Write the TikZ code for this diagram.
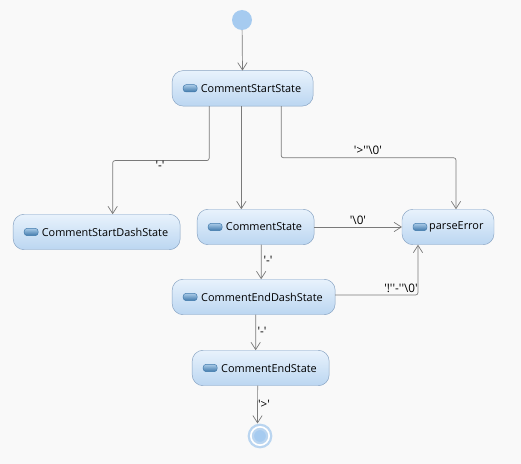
\documentclass[tikz,border=0pt]{standalone}
\usepackage{fontspec}
\newfontfamily\uifont{Open Sans}
\usetikzlibrary{arrows.meta}
\definecolor{canvasgray}{HTML}{F9F9F9}
\definecolor{statetop}{HTML}{E8F2FC}
\definecolor{statebottom}{HTML}{BBD6F1}
\definecolor{stateborder}{HTML}{86A2C2}
\definecolor{flowblue}{HTML}{A6CBF0}
\definecolor{ringblue}{HTML}{BAD5F0}
\definecolor{edgegray}{HTML}{7A7A7A}
\definecolor{icontop}{HTML}{A9CBE8}
\definecolor{iconbottom}{HTML}{3F78AA}

\begin{document}
\begin{tikzpicture}[
    state/.style={
        draw=stateborder,
        top color=statetop,
        bottom color=statebottom,
        minimum height=1.065cm,
        inner sep=0pt,
        outer sep=0pt,
        align=center,
        font=\uifont\fontsize{9.3}{11}\selectfont,
        execute at begin node={\hspace*{0.5cm}},
        rounded corners=0.33cm
    },
    stateicon/.style={
        draw=iconbottom,
        top color=icontop,
        bottom color=iconbottom,
        minimum width=0.42cm,
        minimum height=0.22cm,
        inner sep=0pt,
        rounded corners=0.09cm
    },
    startflow/.style={
        circle,
        fill=flowblue,
        minimum size=0.6cm,
        inner sep=0pt,
        outer sep=0pt
    },
    endflow/.style={
        circle,
        draw=ringblue,
        line width=0.07cm,
        double=white,
        double distance=0.05cm,
        fill=flowblue,
        minimum size=0.55cm,
        inner sep=0pt,
        outer sep=0.1cm
    },
    edge/.style={
        ->,
        >={Straight Barb[length=0.22cm,width=0.28cm]},
        edgegray,
        line width=0.6pt,
        rounded corners=2pt
    },
    edgelabel/.style={
        text=black,
        inner sep=0pt,
        font=\uifont\fontsize{10}{12}\selectfont
    }
]

    % canvas
    \fill[canvasgray] (0,0) rectangle (15.63,-13.92);
    \useasboundingbox (0,0) rectangle (15.63,-13.92);

    % ==========================================
    % NODES PLACEMENT
    % ==========================================

    \node[startflow] (Start) at (7.26,-0.60) {};
    \node[endflow] (Final) at (7.80,-13.08) {};

    \node[state, minimum width=4.23cm] (StartState) at (7.28,-2.65) {CommentStartState};
    \node[state, minimum width=5.01cm] (StartDashState) at (2.90,-6.96) {CommentStartDashState};
    \node[state, minimum width=3.51cm] (CommentState) at (7.67,-6.81) {CommentState};
    \node[state, minimum width=2.76cm] (ParseError) at (13.44,-6.81) {parseError};
    \node[state, minimum width=4.89cm] (EndDashState) at (7.61,-8.91) {CommentEndDashState};
    \node[state, minimum width=4.11cm] (EndState) at (7.82,-11.04) {CommentEndState};

    % small pill in front of each state name
    \foreach \statename in {StartState,StartDashState,CommentState,ParseError,EndDashState,EndState}
        \node[stateicon] (\statename Icon) at ([xshift=0.54cm]\statename.west) {};

    % ==========================================
    % CONNECTIONS
    % ==========================================

    \draw[edge] (Start) -- (StartState);

    % out of CommentStartState
    \draw[edge] ([xshift=-1.005cm]StartState.south) -- ++(0,-1.635) -| ([xshift=0.48cm]StartDashState.north);
    \draw[edge] ([xshift=-0.04cm]StartState.south) -- ([xshift=-0.43cm]CommentState.north);
    \draw[edge] ([xshift=1.155cm]StartState.south) -- ++(0,-1.55) -| ([xshift=0.24cm]ParseError.north);

    % out of CommentState
    \draw[edge] (CommentState) -- (ParseError);
    \draw[edge] ([xshift=0.165cm]CommentState.south) -- ([xshift=0.225cm]EndDashState.north);

    % out of CommentEndDashState
    \draw[edge] ([yshift=0.06cm]EndDashState.east) -| ([xshift=-0.9cm]ParseError.south);
    \draw[edge] ([xshift=0.06cm]EndDashState.south) -- ([xshift=-0.15cm]EndState.north);

    \draw[edge] ([xshift=-0.09cm]EndState.south) -- ([xshift=-0.075cm]Final.north);

    % labels
    \node[edgelabel] (DashLabelA) at (4.80,-4.96) {'-'};
    \node[edgelabel] (QuitLabel) at (11.04,-4.50) {'>''\textbackslash 0'};
    \node[edgelabel] (NullLabel) at (10.74,-6.60) {'\textbackslash 0'};
    \node[edgelabel] (DashLabelB) at (8.04,-7.80) {'-'};
    \node[edgelabel] (BangLabel) at (12.03,-8.64) {'!''-''\textbackslash 0'};
    \node[edgelabel] (DashLabelC) at (7.86,-9.93) {'-'};
    \node[edgelabel] (CloseLabel) at (7.92,-12.12) {'>'};

\end{tikzpicture}
\end{document}
